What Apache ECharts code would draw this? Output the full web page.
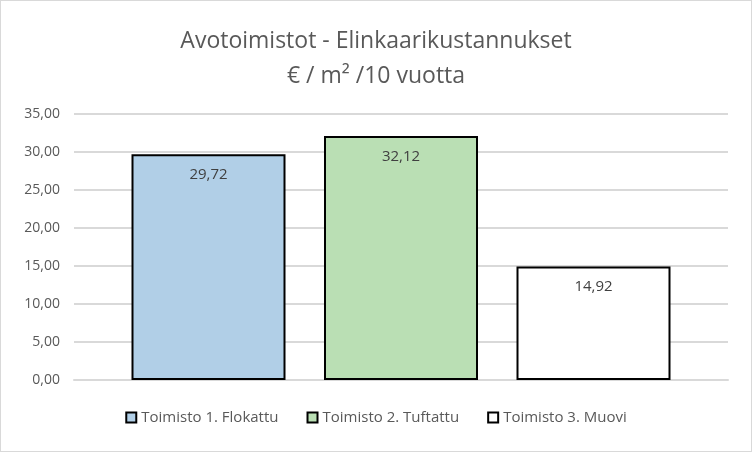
<!DOCTYPE html><html><head><meta charset="utf-8"><script src="https://cdn.jsdelivr.net/npm/echarts@6/dist/echarts.min.js"></script>
<style>html,body{margin:0;padding:0;background:#fff}#c{width:750px;height:450px;border:1px solid #d9d9d9}</style></head><body><div id="c"></div><script>
const seriesNames=['Toimisto 1. Flokattu','Toimisto 2. Tuftattu','Toimisto 3. Muovi'];
const values=[29.72,32.12,14.92];
const colors=['#b1cfe7','#badfb4','#ffffff'];
const category=[''];
const fmt=v=>v.toFixed(2).replace('.',',');
const ch=echarts.init(document.getElementById('c'));
ch.setOption({
 animation:false,
 title:{text:'Avotoimistot - Elinkaarikustannukset\n€ / m² /10 vuotta',left:'center',top:18,textStyle:{fontFamily:'Open Sans',fontWeight:'normal',fontSize:23,color:'#595959',lineHeight:35}},
 legend:{bottom:21,itemWidth:10,itemHeight:10,itemGap:28,icon:'rect',textStyle:{fontFamily:'Open Sans',fontSize:15,color:'#595959'},data:seriesNames},
 grid:{left:73,right:23,top:113,bottom:71},
 xAxis:{type:'category',data:category,axisLine:{lineStyle:{color:'#d9d9d9',width:2}},axisTick:{show:false},axisLabel:{show:false}},
 yAxis:{type:'value',min:0,max:35,interval:5,axisLine:{show:false},axisTick:{show:false},splitLine:{lineStyle:{color:'#d9d9d9',width:2}},axisLabel:{formatter:fmt,fontFamily:'Open Sans',fontSize:14,color:'#595959',margin:14}},
 series:seriesNames.map((n,i)=>({name:n,type:'bar',data:[values[i]],barWidth:154,barGap:'25%',itemStyle:{color:colors[i],borderColor:'#000',borderWidth:2},label:{show:true,position:'insideTop',distance:13,formatter:p=>fmt(p.value),fontFamily:'Open Sans',fontSize:15,color:'#404040'}}))
});
</script></body></html>
